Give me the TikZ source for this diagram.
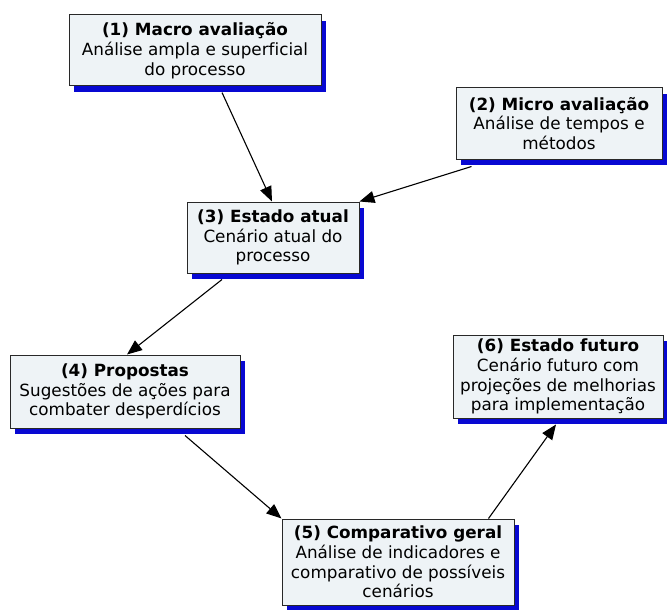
\documentclass[tikz,border=0pt]{standalone}
\usepackage{fontspec}
\setmainfont{DejaVu Sans}[Ligatures=NoCommon]
\usetikzlibrary{arrows.meta,shadows,calc}
\definecolor{boxfill}{RGB}{238,243,246}
\definecolor{shadowblue}{RGB}{8,8,210}
\definecolor{boxline}{RGB}{40,40,40}
\tikzset{
  stagebox/.style={draw=boxline, line width=1pt, fill=boxfill, inner sep=0pt,
    drop shadow={shadow xshift=5pt, shadow yshift=-6pt, fill=shadowblue, opacity=1},
    align=center, font=\fontsize{16.8}{19.8}\selectfont},
  flow/.style={draw=black, line width=1.1pt, -{Triangle[length=15pt,width=12pt]}}
}
\begin{document}
\begin{tikzpicture}[x=1pt,y=-1pt]
\useasboundingbox (0,0) rectangle (667,610);
\node[stagebox, minimum width=252pt, minimum height=71pt] (b1) at (195,50.5)
  {\textbf{(1) Macro avaliação}\\Análise ampla e superficial\\do processo};
\node[stagebox, minimum width=206pt, minimum height=71pt] (b2) at (559,123.5)
  {\textbf{(2) Micro avaliação}\\Análise de tempos e\\métodos};
\node[stagebox, minimum width=172pt, minimum height=71pt] (b3) at (273,237.5)
  {\textbf{(3) Estado atual}\\Cenário atual do\\processo};
\node[stagebox, minimum width=230pt, minimum height=73pt] (b4) at (125,391.5)
  {\textbf{(4) Propostas}\\Sugestões de ações para\\combater desperdícios};
\node[stagebox, minimum width=232pt, minimum height=86pt] (b5) at (398,562)
  {\textbf{(5) Comparativo geral}\\Análise de indicadores e\\comparativo de possíveis\\cenários};
\node[stagebox, minimum width=210pt, minimum height=83pt] (b6) at (558,376.5)
  {\textbf{(6) Estado futuro}\\Cenário futuro com\\projeções de melhorias\\para implementação};
\draw[flow] ($(b1.south)+(27,6)$) -- ($(b3.north)+(-1,0)$);
\draw[flow] ($(b2.south west)+(16,7)$) -- (b3.north east);
\draw[flow] ($(b3.south)+(-51,6)$) -- ($(b4.north)+(2,0)$);
\draw[flow] ($(b4.south)+(60,7)$) -- (b5.north west);
\draw[flow] ($(b5.north east)+(-26,0)$) -- ($(b6.south)+(-2,6)$);
\end{tikzpicture}
\end{document}
